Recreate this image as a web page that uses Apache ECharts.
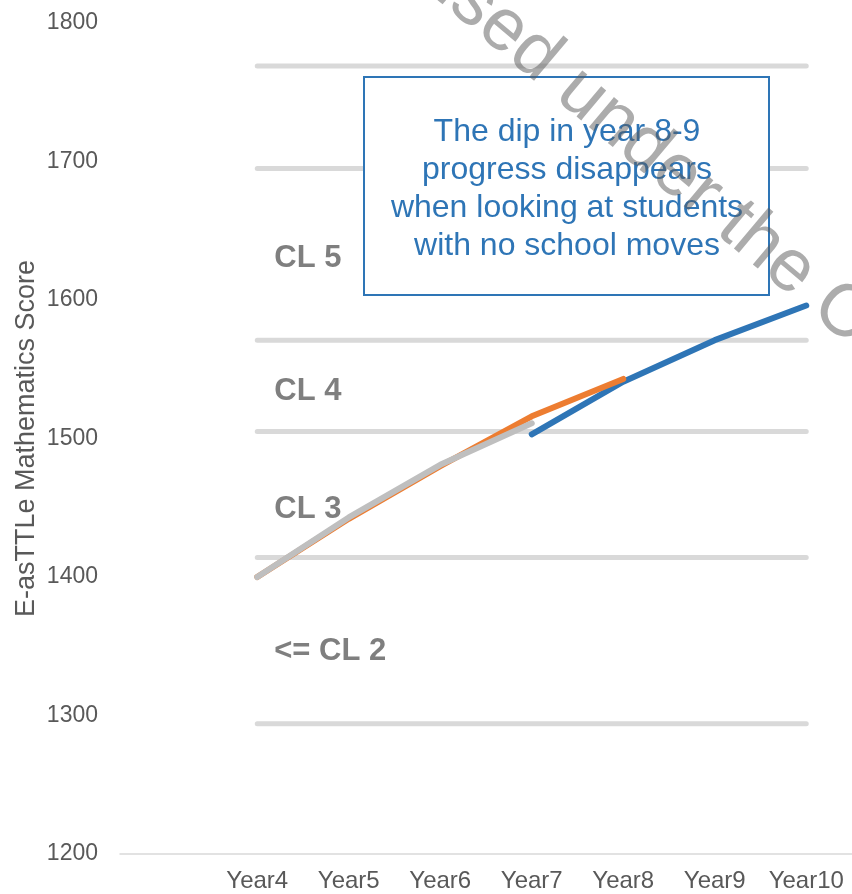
<!DOCTYPE html>
<html>
<head>
<meta charset="utf-8">
<script src="https://cdn.jsdelivr.net/npm/echarts@6/dist/echarts.min.js"></script>
<style>
  html, body { margin: 0; padding: 0; background: #ffffff; }
  #chart { width: 852px; height: 894px; }
</style>
</head>
<body>
<div id="chart"></div>
<script>
// School years on the x axis (the leading blank slot leaves room left of Year4)
const years = ['', 'Year4', 'Year5', 'Year6', 'Year7', 'Year8', 'Year9', 'Year10'];

// Mean e-asTTle mathematics scores
const primaryCohort = [null, 1400, 1443, 1481, 1511, null, null, null];
const intermediateCohort = [null, 1400, 1442, 1480, 1516, 1543, null, null];
const noSchoolMoves = [null, null, null, null, 1503, 1541, 1571, 1596];

// Curriculum level boundaries (score) drawn as horizontal bands
const levelBoundaries = [1294, 1414, 1505, 1571, 1695, 1769];

// Curriculum level names and the score each name sits at
const levelNames = ['<= CL 2', 'CL 3', 'CL 4', 'CL 5'];
const levelNameScores = [1346, 1449, 1534, 1630];

// Score axis range
const scoreMin = 1200;
const scoreMax = 1800;
const scoreStep = 100;

const noteLines = [
  'The dip in year 8-9',
  'progress disappears',
  'when looking at students',
  'with no school moves'
];

const FONT = '"Liberation Sans", Arial, sans-serif';

const chart = echarts.init(document.getElementById('chart'), null, { renderer: 'canvas' });

const boundarySeries = levelBoundaries.map((score, k) => ({
  name: 'Boundary ' + (k + 1),
  type: 'line',
  data: years.map((y, i) => (i === 0 ? null : score)),
  symbol: 'none',
  silent: true,
  z: 1,
  lineStyle: { color: '#D9D9D9', width: 5, cap: 'round' }
}));

function scoreLine(name, data, color, z) {
  return {
    name: name,
    type: 'line',
    data: data,
    symbol: 'none',
    z: z,
    lineStyle: { color: color, width: 6, cap: 'round', join: 'round' }
  };
}

chart.setOption({
  backgroundColor: '#ffffff',
  animation: false,
  grid: { left: 120, top: 23, width: 734, height: 831, containLabel: false },
  xAxis: {
    type: 'category',
    data: years,
    boundaryGap: true,
    axisLine: { show: true, lineStyle: { color: '#D9D9D9', width: 1.5 } },
    axisTick: { show: false },
    axisLabel: { color: '#595959', fontSize: 24, fontFamily: FONT, margin: 15, interval: 0 },
    splitLine: { show: false }
  },
  yAxis: {
    type: 'value',
    min: scoreMin,
    max: scoreMax,
    interval: scoreStep,
    name: 'E-asTTLe Mathematics Score',
    nameLocation: 'middle',
    nameRotate: 90,
    nameGap: 80,
    nameMoveOverlap: false,
    nameTextStyle: { color: '#595959', fontSize: 27, fontFamily: FONT },
    axisLine: { show: false },
    axisTick: { show: false },
    splitLine: { show: false },
    axisLabel: {
      color: '#595959', fontSize: 23, fontFamily: FONT, margin: 22,
      formatter: v => String(v)
    }
  },
  series: [
    ...boundarySeries,
    scoreLine('No school moves', noSchoolMoves, '#2E75B6', 3),
    scoreLine('Intermediate cohort', intermediateCohort, '#ED7D31', 4),
    scoreLine('Primary cohort', primaryCohort, '#BFBFBF', 5)
  ]
});

// Level names are placed on the score scale, just right of Year4
const levelTexts = levelNames.map((name, i) => {
  const p = chart.convertToPixel({ xAxisIndex: 0, yAxisIndex: 0 }, ['Year4', levelNameScores[i]]);
  return {
    type: 'text',
    id: 'level' + i,
    z: 6,
    x: p[0] + 17,
    y: p[1],
    style: {
      text: name,
      fill: '#7F7F7F',
      fontSize: 31,
      fontWeight: 'bold',
      fontFamily: FONT,
      align: 'left',
      verticalAlign: 'middle'
    }
  };
});

chart.setOption({
  graphic: [
    ...levelTexts,
    {
      type: 'rect',
      id: 'noteBox',
      z: 10,
      shape: { x: 364, y: 77, width: 405, height: 218 },
      style: { fill: '#ffffff', stroke: '#2E75B6', lineWidth: 2 }
    },
    {
      type: 'text',
      id: 'noteText',
      z: 11,
      x: 567,
      y: 189,
      style: {
        text: noteLines.join('\n'),
        fill: '#2E75B6',
        fontSize: 32,
        fontFamily: FONT,
        lineHeight: 38,
        align: 'center',
        verticalAlign: 'middle'
      }
    },
    {
      type: 'text',
      id: 'stamp',
      z: 20,
      silent: true,
      x: 324,
      y: -122,
      rotation: -40 * Math.PI / 180,
      style: {
        text: 'Licensed under the CC',
        fill: 'rgba(90,90,90,0.5)',
        fontSize: 74,
        fontFamily: FONT,
        align: 'left',
        verticalAlign: 'middle'
      }
    }
  ]
});
</script>
</body>
</html>
